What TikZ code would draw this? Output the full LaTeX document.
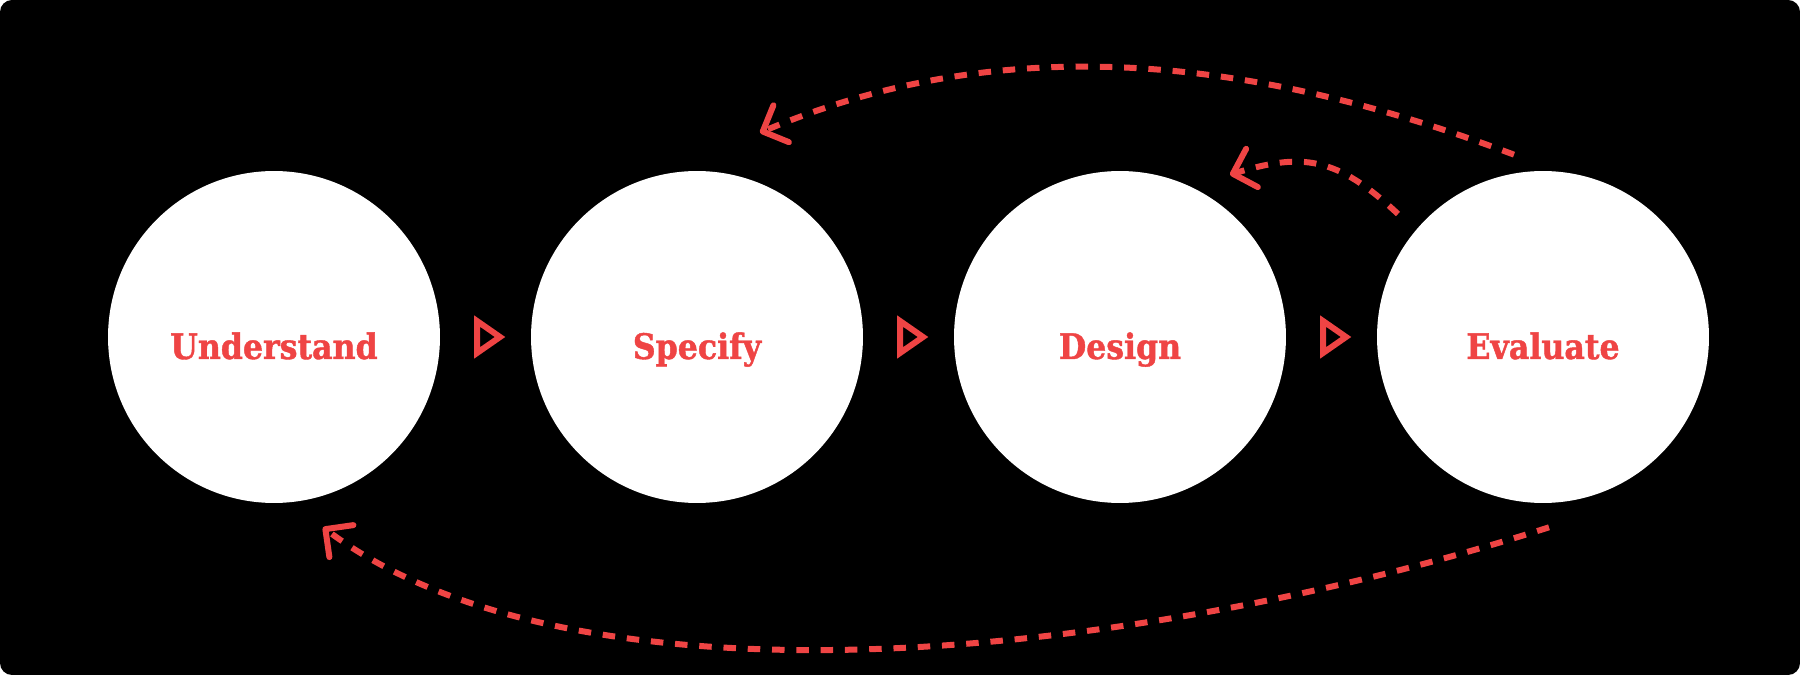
\documentclass[tikz,border=0pt]{standalone}
\usepackage{fontspec}
\newfontfamily\stagefont{DejaVu Serif Condensed}[BoldFeatures={FakeBold=1.2}]
\usetikzlibrary{calc}
\usetikzlibrary{arrows.meta}
\definecolor{accent}{RGB}{239,68,68}
\tikzset{
  stage/.style = {circle, fill=white, minimum size=6.64cm, inner sep=0pt, text=#1,
    font=\stagefont\bfseries\fontsize{20}{24}\selectfont, text height=0.88cm, text depth=0pt},
  flow/.style = {draw=#1, line width=0.12cm, line join=miter},
  feedback/.style = {draw=#1, line width=0.12cm, dash pattern=on 0.25cm off 0.236cm,
    -{Straight Barb[length=0.4cm, width=0.8cm, round]}}
}

\begin{document}
\begin{tikzpicture}[x=0.02cm, y=-0.02cm]

    % Background
    \useasboundingbox (0,0) rectangle (1800,675);
    \fill[black, rounded corners=0.24cm] (0,0) rectangle (1800,675);

    % Stages
    \node[stage={accent}] (U) at (274,337) {Understand};
    \node[stage={accent}] (S) at (697,337) {Specify};
    \node[stage={accent}] (D) at (1120,337) {Design};
    \node[stage={accent}] (E) at (1543,337) {Evaluate};

    % Flow marks
    \foreach \a/\b in {U/S, S/D, D/E} {
      \draw[flow={accent}] ($(\a)!0.5!(\b)+(-8.5,-16)$) -- ++(23,16) -- ++(-23,16) -- cycle;
    }

    % Feedback loops
    \draw[feedback={accent}] ([shift={(-29,-16)}]E.north) .. controls +(-281,-106) and +(230,-97) .. ([shift={(63,-38)}]S.north);
    \draw[feedback={accent}] ([shift={(-145,-123)}]E.center) .. controls +(-62,-58) and +(72,-22) .. ([shift={(110,4)}]D.north);
    \draw[feedback={accent}] ([shift={(6,24)}]E.south) .. controls +(-410,131) and +(256,192) .. ([shift={(49,24)}]U.south);

\end{tikzpicture}
\end{document}
